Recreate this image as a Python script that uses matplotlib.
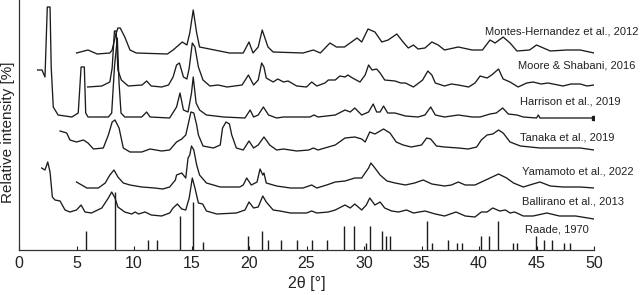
import numpy as np
import matplotlib
matplotlib.use("Agg")
import matplotlib.pyplot as plt

plt.rcParams['font.family'] = ['Liberation Sans', 'DejaVu Sans']

# ---- stacked XRD patterns (2theta in deg, intensity in arbitrary stacked units)
tt_montes = [5.0, 6.0, 6.8, 7.9, 8.1, 8.4, 8.6, 8.8, 9.2, 9.65, 10.2, 12.9, 13.4, 14.2, 14.6,
             14.85, 15.15, 15.45, 15.7, 18.3, 19.5, 20.0, 20.35, 20.8, 21.15, 21.65, 22.1, 24.7,
             25.6, 26.2, 27.04, 27.6, 28.3, 29.4, 29.8, 30.35, 30.95, 31.55, 32.1, 32.85, 33.4,
             33.85, 34.3, 34.7, 35.3, 35.9, 36.45, 37.0, 38.2, 39.4, 40.3, 40.96, 41.4, 42.1,
             42.7, 43.3, 44.4, 45.0, 45.6, 46.2, 47.6, 48.8, 50.0]
I_montes = [197, 200, 196, 197, 200, 215, 222, 222, 213, 200, 197, 196, 200, 208, 205,
            217, 240, 217, 203, 197, 197, 208, 197, 203, 220, 203, 198, 197,
            200, 197, 207, 203, 203, 212, 208, 221, 218, 208, 210, 216, 208,
            202, 205, 201, 202, 208, 205, 200, 203, 200, 200, 210, 207, 213,
            207, 199, 200, 205, 202, 199, 200, 200, 197]

tt_moore = [5.97, 7.2, 7.9, 8.1, 8.3, 8.45, 8.6, 8.9, 9.5, 10.7, 11.1, 11.5, 12.4, 13.0, 13.4,
            13.7, 13.95, 14.3, 14.6, 14.8, 15.07, 15.3, 15.6, 16.0, 16.6, 17.3, 18.1, 19.4,
            19.95, 20.4, 20.8, 21.1, 21.3, 21.5, 22.1, 22.5, 23.0, 23.4, 24.15, 25.0, 25.45,
            25.9, 26.6, 26.9, 27.5, 27.9, 28.35, 28.6, 29.0, 29.65, 30.1, 30.4, 30.7, 31.1,
            31.4, 31.8, 32.7, 33.2, 33.6, 34.3, 35.1, 35.55, 35.9, 36.2, 37.0, 37.6, 38.2,
            39.1, 39.65, 40.1, 40.7, 41.1, 41.7, 42.1, 42.7, 43.4, 44.15, 44.7, 45.4, 46.0,
            47.3, 48.0, 48.8, 49.4, 50.0]
I_moore = [163, 164, 168, 182, 219, 219, 180, 170, 164, 165, 169, 164, 163, 165, 173,
           185, 187, 173, 171, 182, 207, 203, 183, 170, 164, 165, 163, 165,
           175, 165, 170, 187, 183, 172, 168, 171, 168, 169, 164, 163, 168,
           164, 167, 170, 170, 174, 173, 175, 172, 168, 175, 185, 180, 181,
           177, 170, 169, 167, 167, 163, 170, 179, 175, 167, 164, 166, 165,
           163, 167, 174, 172, 175, 181, 171, 168, 163, 167, 168, 166, 167,
           164, 166, 166, 164, 165]

tt_harrison = [1.62, 2.0, 2.26, 2.46, 2.7, 2.8, 2.98, 3.4, 4.6, 5.15, 5.4, 5.68, 5.8, 6.0, 7.77,
               8.06, 8.3, 8.55, 8.7, 8.87, 9.2, 10.67, 11.1, 11.4, 13.1, 13.7, 14.0, 14.3, 14.7,
               15.0, 15.15, 15.4, 15.7, 16.3, 17.8, 19.65, 20.1, 20.4, 20.8, 21.25, 21.7, 22.4,
               23.0, 25.3, 25.65, 26.0, 27.5, 28.35, 28.8, 29.2, 29.8, 30.4, 30.8, 31.1, 31.4,
               31.7, 32.06, 32.7, 33.6, 34.7, 35.3, 35.8, 36.2, 37.0, 38.2, 39.4, 40.1, 40.96,
               41.5, 42.06, 42.55, 43.3, 43.85, 45.0, 45.16, 45.3, 50.0]
I_harrison = [180, 180, 173, 243, 243, 183, 143, 135, 133, 137, 183, 183, 137, 133, 133,
              137, 183, 212, 167, 137, 133, 133, 138, 133, 132, 143, 157, 140, 138,
              157, 173, 147, 140, 135, 133, 132, 140, 133, 135, 143, 135, 132,
              133, 133, 135, 133, 135, 140, 138, 142, 135, 138, 146, 138, 138,
              144, 137, 137, 134, 133, 135, 143, 135, 133, 135, 133, 133, 136,
              137, 142, 136, 135, 133, 132, 135, 132, 132]

tt_tanaka = [3.57, 4.15, 4.43, 5.0, 5.6, 6.0, 6.47, 7.33, 7.77, 8.1, 8.35, 8.7, 9.07, 9.65,
             10.67, 11.4, 12.4, 13.1, 13.7, 14.15, 14.5, 14.7, 14.95, 15.2, 15.45, 15.6, 16.0,
             16.9, 17.5, 17.7, 18.0, 18.3, 18.5, 18.9, 19.5, 20.0, 20.4, 20.8, 21.3, 21.8, 22.4,
             23.0, 24.15, 25.2, 25.6, 26.0, 26.9, 27.5, 28.35, 29.2, 29.8, 30.1, 30.5, 30.95,
             31.7, 32.26, 32.8, 33.4, 34.1, 35.0, 35.45, 35.8, 36.3, 37.0, 38.2, 39.07, 39.8,
             40.2, 40.7, 41.2, 41.7, 42.1, 42.7, 43.6, 45.3, 47.5, 48.8, 50.0]
I_tanaka = [119, 117, 110, 108, 110, 107, 101, 102, 115, 128, 130, 122, 102, 98,
            98, 101, 99, 100, 108, 111, 115, 125, 138, 137, 125, 115, 104,
            102, 105, 122, 128, 126, 115, 102, 100, 109, 102, 105, 113, 105, 100,
            101, 99, 100, 102, 100, 103, 105, 112, 113, 111, 108, 118, 116,
            121, 117, 108, 105, 103, 105, 112, 111, 104, 103, 102, 101, 103,
            110, 115, 116, 120, 117, 108, 104, 102, 102, 102, 100]

tt_yamamoto = [5.0, 5.45, 5.9, 6.9, 7.5, 7.9, 8.26, 8.6, 9.07, 9.65, 10.67, 11.8, 12.5, 13.1,
               13.6, 13.7, 14.15, 14.5, 14.7, 14.85, 15.0, 15.2, 15.45, 15.7, 16.3, 17.5, 19.2,
               19.5, 19.8, 20.2, 20.7, 20.96, 21.2, 21.3, 21.5, 22.4, 23.6, 24.7, 25.45, 25.9,
               26.75, 27.5, 28.35, 29.2, 29.8, 30.4, 30.6, 30.95, 31.4, 32.0, 32.7, 33.6, 34.4,
               35.15, 35.9, 37.0, 37.6, 38.2, 38.8, 39.65, 40.4, 40.96, 41.7, 42.4, 43.0, 43.85,
               44.7, 45.3, 46.2, 47.3, 48.8, 50.0]
I_yamamoto = [68, 65, 62, 62, 67, 75, 80, 73, 67, 65, 63, 62, 61, 63,
              70, 75, 77, 72, 92, 95, 104, 100, 85, 75, 67, 63, 63,
              65, 72, 65, 68, 81, 75, 77, 67, 64, 62, 62, 65, 62,
              65, 68, 69, 72, 72, 82, 87, 82, 75, 69, 67, 65, 67,
              70, 66, 64, 65, 68, 65, 65, 69, 72, 76, 72, 67, 63,
              66, 68, 64, 63, 63, 62]

tt_ballirano = [1.97, 2.26, 2.5, 2.7, 2.9, 3.13, 3.57, 4.0, 4.43, 5.0, 5.4, 5.74, 6.3, 7.2, 7.77,
                8.06, 8.35, 8.6, 9.2, 9.8, 10.1, 10.4, 10.96, 11.5, 12.4, 13.1, 13.4, 13.77,
                14.15, 14.5, 14.8, 15.07, 15.3, 15.6, 15.97, 16.3, 17.2, 18.9, 19.65, 20.0, 20.4,
                20.8, 21.2, 21.5, 22.1, 22.7, 23.6, 25.0, 25.45, 25.9, 26.9, 27.5, 28.35, 28.8,
                29.2, 29.8, 30.2, 30.5, 30.95, 31.4, 31.8, 32.4, 33.0, 33.7, 34.3, 35.3, 36.2,
                37.0, 38.0, 38.8, 39.65, 40.2, 40.7, 41.2, 41.8, 42.3, 42.7, 43.1, 43.85, 44.7,
                45.9, 47.0, 48.4, 50.0]
I_ballirano = [82, 80, 88, 78, 53, 50, 49, 40, 38, 40, 45, 38, 37, 42, 52,
               58, 52, 43, 38, 36, 38, 36, 38, 35, 34, 37, 42, 46,
               41, 40, 52, 72, 62, 47, 46, 39, 36, 37, 40, 48, 42,
               43, 54, 48, 40, 39, 37, 37, 39, 37, 38, 40, 45, 42,
               46, 40, 45, 52, 45, 48, 42, 39, 38, 40, 37, 39, 36,
               34, 38, 34, 33, 38, 38, 42, 39, 40, 37, 38, 34, 34,
               37, 34, 34, 31]

# ---- Raade, 1970 reference lines
raade_pos = [5.83, 8.33, 11.19, 11.97, 14.0, 15.1, 16.03, 19.94, 21.16, 21.68, 22.78, 24.15,
             25.5, 26.75, 28.26, 29.13, 30.17, 30.52, 31.54, 31.88, 32.26, 35.5, 35.94, 37.33,
             38.11, 38.49, 40.15, 40.9, 41.68, 42.93, 43.33, 44.96, 45.65, 46.38, 47.39, 47.9]
raade_int = [19, 58, 10, 10, 34, 48, 8, 14, 19, 10, 10, 10,
             10, 10, 24, 24, 7, 24, 19, 14, 14, 29, 7, 10,
             7, 7, 14, 14, 29, 7, 7, 14, 10, 10, 7, 7]

labels = ["Montes-Hernandez et al., 2012", "Moore & Shabani, 2016", "Harrison et al., 2019",
          "Tanaka et al., 2019", "Yamamoto et al., 2022", "Ballirano et al., 2013", "Raade, 1970"]

line_c = '#1c1c1c'

fig = plt.figure(figsize=(6.4, 2.95), dpi=100)
ax = fig.add_axes([19/640, 45/295, 575/640, 250/295])

series = [(tt_montes, I_montes), (tt_moore, I_moore), (tt_harrison, I_harrison),
          (tt_tanaka, I_tanaka), (tt_yamamoto, I_yamamoto), (tt_ballirano, I_ballirano)]
for tt, I in series:
    ax.plot(tt, I, color=line_c, lw=0.95, solid_joinstyle='round')
# end marker on Harrison pattern
ax.plot(tt_harrison[-1], I_harrison[-1], 's', color=line_c, ms=2.5)

ax.vlines(raade_pos, 0, raade_int, color=line_c, lw=1.0)

# label placement (x in deg, y in stacked units)
label_xy = [(40.5, 218), (43.4, 185), (43.6, 148), (43.6, 112), (43.7, 78), (43.7, 48), (44.0, 21)]
for lab, (x, y) in zip(labels, label_xy):
    ax.text(x, y, lab, fontsize=8, color='#222222', ha='left', va='center', clip_on=False)

ax.set_xlim(0, 50)
ax.set_ylim(0, 250)
ax.set_xticks(np.arange(0, 51, 5))
ax.set_yticks([])
ax.tick_params(axis='x', direction='in', length=3, width=0.8, labelsize=11.5, pad=4,
               colors='#222222')
for s in ['top', 'right']:
    ax.spines[s].set_visible(False)
for s in ['left', 'bottom']:
    ax.spines[s].set_linewidth(0.9)
    ax.spines[s].set_color('#333333')
ax.set_xlabel('2θ [°]', fontsize=11.5, labelpad=4, color='#222222')
ax.set_ylabel('Relative intensity [%]', fontsize=11, color='#222222')
ax.yaxis.set_label_coords(-0.007, 0.47)

fig.savefig('out.png', dpi=100)
